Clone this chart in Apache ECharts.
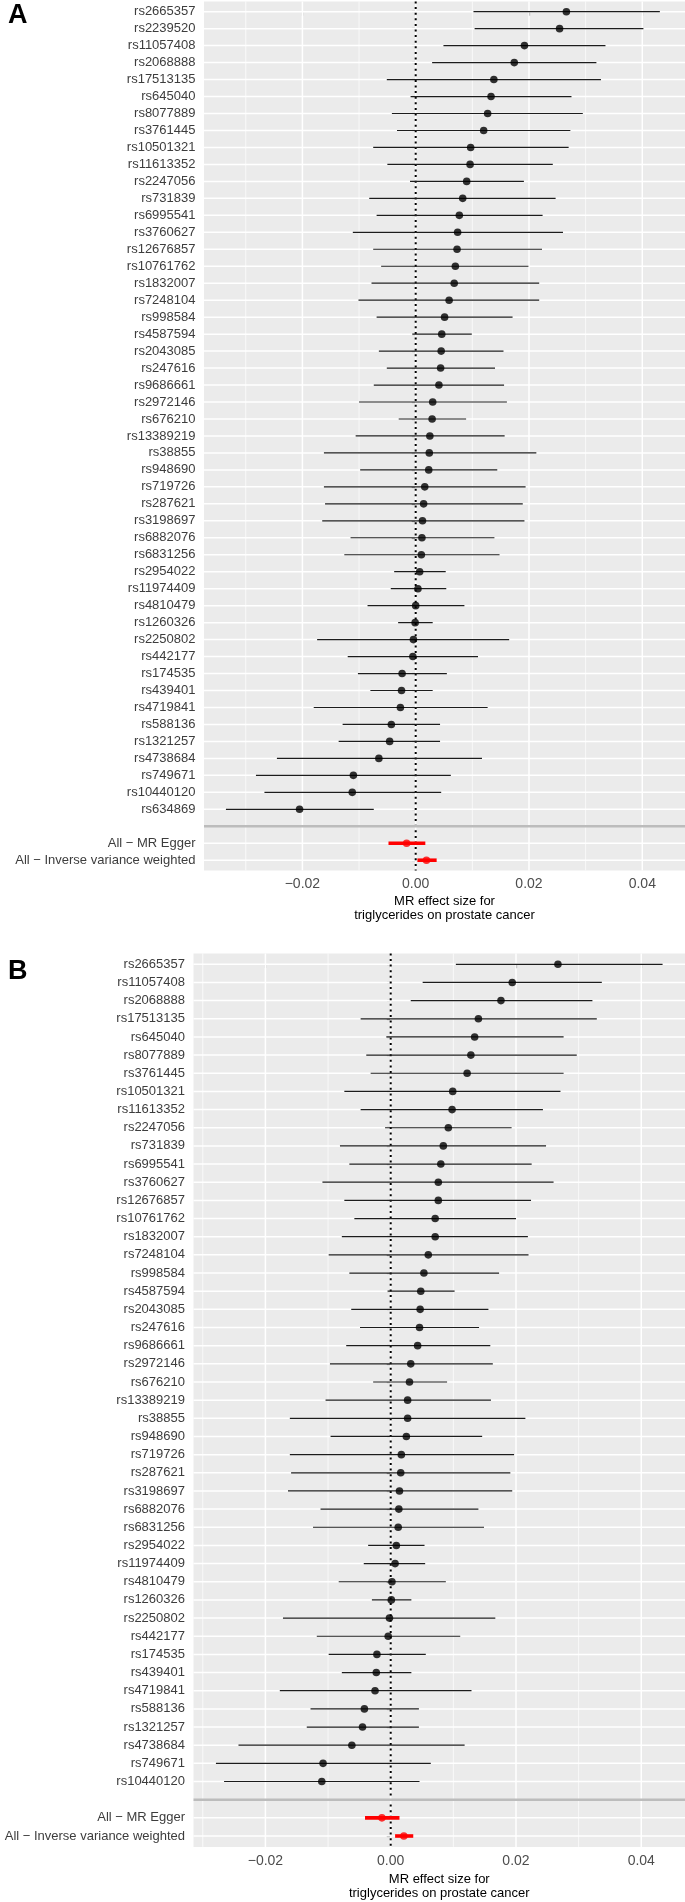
<!DOCTYPE html>
<html><head><meta charset="utf-8">
<script src="https://cdn.jsdelivr.net/npm/echarts@6/dist/echarts.min.js"></script>
<style>html,body{margin:0;padding:0;background:#fff}#c{width:685px;height:1902px}</style>
</head><body><div id="c"></div>
<script>
const FONT = 'Liberation Sans, Arial, sans-serif';

const snpsA = ['rs2665357','rs2239520','rs11057408','rs2068888','rs17513135','rs645040','rs8077889','rs3761445','rs10501321','rs11613352','rs2247056','rs731839','rs6995541','rs3760627','rs12676857','rs10761762','rs1832007','rs7248104','rs998584','rs4587594','rs2043085','rs247616','rs9686661','rs2972146','rs676210','rs13389219','rs38855','rs948690','rs719726','rs287621','rs3198697','rs6882076','rs6831256','rs2954022','rs11974409','rs4810479','rs1260326','rs2250802','rs442177','rs174535','rs439401','rs4719841','rs588136','rs1321257','rs4738684','rs749671','rs10440120','rs634869'];
const betaA = [0.0266,0.0254,0.0192,0.0174,0.0138,0.0133,0.0127,0.0120,0.0097,0.0096,0.0090,0.0083,0.0077,0.0074,0.0073,0.0070,0.0068,0.0059,0.0051,0.0046,0.0045,0.0044,0.0041,0.0030,0.0029,0.0025,0.0024,0.0023,0.0016,0.0014,0.0012,0.0011,0.0010,0.0007,0.0004,0.0000,-0.0001,-0.0004,-0.0005,-0.0024,-0.0025,-0.0027,-0.0043,-0.0046,-0.0065,-0.0110,-0.0112,-0.0205];
const loA = [0.0102,0.0104,0.0049,0.0029,-0.0051,-0.0009,-0.0042,-0.0033,-0.0075,-0.0050,-0.0010,-0.0082,-0.0069,-0.0111,-0.0075,-0.0061,-0.0078,-0.0101,-0.0069,-0.0006,-0.0065,-0.0051,-0.0074,-0.0100,-0.0030,-0.0106,-0.0162,-0.0098,-0.0162,-0.0160,-0.0165,-0.0115,-0.0126,-0.0038,-0.0044,-0.0085,-0.0031,-0.0174,-0.0120,-0.0102,-0.0080,-0.0180,-0.0129,-0.0136,-0.0245,-0.0282,-0.0267,-0.0335];
const hiA = [0.0431,0.0402,0.0335,0.0319,0.0327,0.0275,0.0295,0.0273,0.0270,0.0242,0.0191,0.0247,0.0224,0.0260,0.0223,0.0199,0.0218,0.0218,0.0171,0.0099,0.0155,0.0140,0.0156,0.0161,0.0089,0.0157,0.0213,0.0144,0.0194,0.0189,0.0192,0.0139,0.0148,0.0053,0.0054,0.0086,0.0030,0.0165,0.0110,0.0055,0.0030,0.0127,0.0043,0.0043,0.0117,0.0062,0.0045,-0.0074];

const snpsB = ['rs2665357','rs11057408','rs2068888','rs17513135','rs645040','rs8077889','rs3761445','rs10501321','rs11613352','rs2247056','rs731839','rs6995541','rs3760627','rs12676857','rs10761762','rs1832007','rs7248104','rs998584','rs4587594','rs2043085','rs247616','rs9686661','rs2972146','rs676210','rs13389219','rs38855','rs948690','rs719726','rs287621','rs3198697','rs6882076','rs6831256','rs2954022','rs11974409','rs4810479','rs1260326','rs2250802','rs442177','rs174535','rs439401','rs4719841','rs588136','rs1321257','rs4738684','rs749671','rs10440120'];
const betaB = [0.0267,0.0194,0.0176,0.0140,0.0134,0.0128,0.0122,0.0099,0.0098,0.0092,0.0084,0.0080,0.0076,0.0076,0.0071,0.0071,0.0060,0.0053,0.0048,0.0047,0.0046,0.0043,0.0032,0.0030,0.0027,0.0027,0.0025,0.0017,0.0016,0.0014,0.0013,0.0012,0.0009,0.0007,0.0002,0.0001,-0.0002,-0.0004,-0.0022,-0.0023,-0.0025,-0.0042,-0.0045,-0.0062,-0.0108,-0.0110];
const loB = [0.0104,0.0051,0.0032,-0.0048,-0.0007,-0.0039,-0.0032,-0.0074,-0.0048,-0.0009,-0.0081,-0.0066,-0.0109,-0.0074,-0.0058,-0.0078,-0.0099,-0.0066,-0.0005,-0.0063,-0.0049,-0.0071,-0.0097,-0.0028,-0.0104,-0.0161,-0.0096,-0.0161,-0.0159,-0.0164,-0.0112,-0.0124,-0.0036,-0.0043,-0.0083,-0.0030,-0.0172,-0.0118,-0.0099,-0.0078,-0.0177,-0.0128,-0.0134,-0.0243,-0.0279,-0.0266];
const hiB = [0.0434,0.0337,0.0322,0.0329,0.0276,0.0297,0.0276,0.0271,0.0243,0.0193,0.0248,0.0225,0.0260,0.0224,0.0200,0.0219,0.0220,0.0173,0.0102,0.0156,0.0141,0.0159,0.0163,0.0090,0.0160,0.0215,0.0146,0.0197,0.0191,0.0194,0.0140,0.0149,0.0054,0.0055,0.0088,0.0033,0.0167,0.0111,0.0056,0.0033,0.0129,0.0045,0.0045,0.0118,0.0064,0.0046];

const summaryLabels = ['All \u2212 MR Egger', 'All \u2212 Inverse variance weighted'];
const sumBetaA = [-0.0016, 0.0019];
const sumLoA   = [-0.0048, 0.0003];
const sumHiA   = [ 0.0017, 0.0037];
const sumBetaB = [-0.0014, 0.0021];
const sumLoB   = [-0.0041, 0.0007];
const sumHiB   = [ 0.0014, 0.0036];

const xMajor = [-0.02, 0, 0.02, 0.04];
const xMinor = [-0.03, -0.01, 0.01, 0.03];
const panelLetters = ['A', 'B'];
const xTitle = 'MR effect size for\ntriglycerides on prostate cancer';

function fmtX(v) {
  if (Math.abs(v) < 1e-9) return '0.00';
  return (v < 0 ? '\u2212' : '') + Math.abs(v).toFixed(2);
}

const grids = [], xAxes = [], yAxes = [], series = [];

function addPanel(g, layout, snps, beta, lo, hi, sB, sL, sH) {
  const rows = snps.concat([''], summaryLabels);
  const n = rows.length;
  const sep = snps.length;
  const labelIdx = [];
  rows.forEach((r, i) => { if (r !== '') labelIdx.push(i); });

  grids.push({left: layout.left, top: layout.top, width: 685 - layout.left, height: layout.height,
    show: true, backgroundColor: '#ebebeb', borderWidth: 0, containLabel: false, outerBoundsMode: 'none'});
  xAxes.push({gridIndex: g, type: 'value', min: layout.xmin, max: layout.xmax,
    axisLine: {show: false},
    axisTick: {show: true, length: 4, customValues: xMajor, lineStyle: {color: '#333', width: 1.1}},
    axisLabel: {customValues: xMajor, formatter: fmtX, fontSize: 14, color: '#4d4d4d', margin: 7, fontFamily: FONT},
    splitLine: {show: false},
    name: xTitle, nameLocation: 'middle', nameGap: layout.nameGap,
    nameTextStyle: {fontSize: 13, lineHeight: 14.3, color: '#000', fontFamily: FONT, align: 'center'}});
  yAxes.push({gridIndex: g, type: 'value', inverse: true, min: -0.6, max: n - 1 + 0.6,
    axisLine: {show: false},
    axisTick: {show: true, length: 4, customValues: labelIdx, lineStyle: {color: '#333', width: 1.1}},
    axisLabel: {customValues: labelIdx, formatter: v => rows[Math.round(v)], fontSize: 13, color: '#3d3d3d', margin: 8.5, fontFamily: FONT},
    splitLine: {show: false}});

  // background grid lines
  const gl = [];
  for (let i = 0; i < n; i++) gl.push([0, i, 0]);
  xMajor.forEach(v => gl.push([v, 0, 1]));
  xMinor.forEach(v => gl.push([v, 0, 2]));
  series.push({type: 'custom', xAxisIndex: g, yAxisIndex: g, z: 1, silent: true, data: gl,
    renderItem: (params, api) => {
      const cs = params.coordSys;
      const k = api.value(2);
      if (k === 0) {
        const y = api.coord([0, api.value(1)])[1];
        return {type: 'line', shape: {x1: cs.x, y1: y, x2: cs.x + cs.width, y2: y}, style: {stroke: '#fff', lineWidth: 1.5}};
      }
      const x = api.coord([api.value(0), 0])[0];
      return {type: 'line', shape: {x1: x, y1: cs.y, x2: x, y2: cs.y + cs.height}, style: {stroke: '#fff', lineWidth: k === 1 ? 1.5 : 0.7}};
    }});
  // zero reference line
  series.push({type: 'custom', xAxisIndex: g, yAxisIndex: g, z: 2, silent: true, data: [[0, 0]],
    renderItem: (params, api) => {
      const cs = params.coordSys;
      const x = api.coord([api.value(0), 0])[0];
      return {type: 'line', shape: {x1: x, y1: cs.y, x2: x, y2: cs.y + cs.height},
        style: {stroke: '#000', lineWidth: 2, lineDash: [2, 3.6]}};
    }});
  // separator line
  series.push({type: 'custom', xAxisIndex: g, yAxisIndex: g, z: 3, silent: true, data: [[0, sep]],
    renderItem: (params, api) => {
      const cs = params.coordSys;
      const y = api.coord([0, api.value(1)])[1];
      return {type: 'line', shape: {x1: cs.x, y1: y, x2: cs.x + cs.width, y2: y},
        style: {stroke: '#bcbcbc', lineWidth: 2.4}};
    }});
  // error bars
  const bars = [], pts = [];
  snps.forEach((s, i) => { bars.push([lo[i], i, hi[i], 0]); pts.push({value: [beta[i], i], itemStyle: {color: '#000'}}); });
  summaryLabels.forEach((s, j) => { const i = sep + 1 + j; bars.push([sL[j], i, sH[j], 1]); pts.push({value: [sB[j], i], itemStyle: {color: '#ff0000'}}); });
  series.push({type: 'custom', xAxisIndex: g, yAxisIndex: g, z: 4, silent: true, data: bars,
    encode: {x: [0, 2], y: 1},
    renderItem: (params, api) => {
      const p1 = api.coord([api.value(0), api.value(1)]);
      const p2 = api.coord([api.value(2), api.value(1)]);
      const red = api.value(3) === 1;
      return {type: 'line', shape: {x1: p1[0], y1: p1[1], x2: p2[0], y2: p2[1]},
        style: {stroke: red ? '#ff0000' : '#1c1c1c', lineWidth: red ? 3.6 : 1.2}};
    }});
  series.push({type: 'scatter', xAxisIndex: g, yAxisIndex: g, z: 5, silent: true, symbol: 'circle', symbolSize: 7.6, data: pts});
}

addPanel(0, {left: 204, top: 1.5, height: 868.9, xmin: -0.03737, xmax: 0.04754, nameGap: 24},
  snpsA, betaA, loA, hiA, sumBetaA, sumLoA, sumHiA);
addPanel(1, {left: 193.5, top: 953.4, height: 893.5, xmin: -0.03148, xmax: 0.04698, nameGap: 25},
  snpsB, betaB, loB, hiB, sumBetaB, sumLoB, sumHiB);

const chart = echarts.init(document.getElementById('c'), null, {renderer: 'canvas', width: 685, height: 1902});
chart.setOption({
  animation: false,
  backgroundColor: '#fff',
  title: [
    {text: panelLetters[0], left: 8, top: 2, padding: 0, textStyle: {fontSize: 27, fontWeight: 'bold', color: '#000', fontFamily: FONT}},
    {text: panelLetters[1], left: 8, top: 958, padding: 0, textStyle: {fontSize: 27, fontWeight: 'bold', color: '#000', fontFamily: FONT}}
  ],
  grid: grids, xAxis: xAxes, yAxis: yAxes, series: series
});
</script></body></html>
